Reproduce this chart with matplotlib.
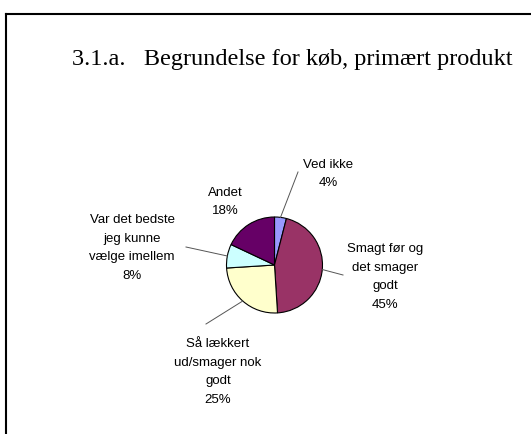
import numpy as np
import matplotlib
matplotlib.use('Agg')
import matplotlib.pyplot as plt

title = '3.1.a.   Begrundelse for køb, primært produkt'
labels = ['Ved ikke', 'Smagt før og\ndet smager\ngodt', 'Så lækkert\nud/smager nok\ngodt',
          'Var det bedste\njeg kunne\nvælge imellem', 'Andet']
values = [4, 45, 25, 8, 18]
colors = ['#9999FF', '#993366', '#FFFFCC', '#CCFFFF', '#660066']

# label text centres and leader line ends, in pixels from top-left
label_pos = [(328, 174), (385, 277), (218, 372), (132, 248), (225, 202)]
leader_end = [(298, 173), (343, 276), (206, 325), (186, 248), None]

W, H = 531, 435
center = (274.5, H - 266)
radius = 48

fig = plt.figure(figsize=(W / 100, H / 100), dpi=100)
ax = fig.add_axes([0, 0, 1, 1])

wedges, _ = ax.pie(values, colors=colors, startangle=90, counterclock=False,
                   center=center, radius=radius,
                   wedgeprops=dict(edgecolor='black', linewidth=0.8))
ax.set_xlim(0, W)
ax.set_ylim(0, H)
ax.set_aspect('equal')
ax.axis('off')

for w, lab, v, pos, end in zip(wedges, labels, values, label_pos, leader_end):
    ax.text(pos[0], H - pos[1], '{}\n{}%'.format(lab, v), ha='center', va='center',
            fontsize=9.5, family='Liberation Sans', linespacing=1.75)
    if end is not None:
        mid = np.deg2rad((w.theta1 + w.theta2) / 2)
        x0 = center[0] + radius * np.cos(mid)
        y0 = center[1] + radius * np.sin(mid)
        ax.plot([x0, end[0]], [y0, H - end[1]], color='#555555', lw=0.7)

ax.text(292, H - 60, title, ha='center', va='center', fontsize=17.5,
        family='Liberation Serif')

# frame (top and left edges)
ax.plot([6, W], [H - 15, H - 15], color='black', lw=1.5)
ax.plot([6, 6], [H - 15, 0], color='black', lw=1.5)

fig.savefig('out.png', dpi=100)
